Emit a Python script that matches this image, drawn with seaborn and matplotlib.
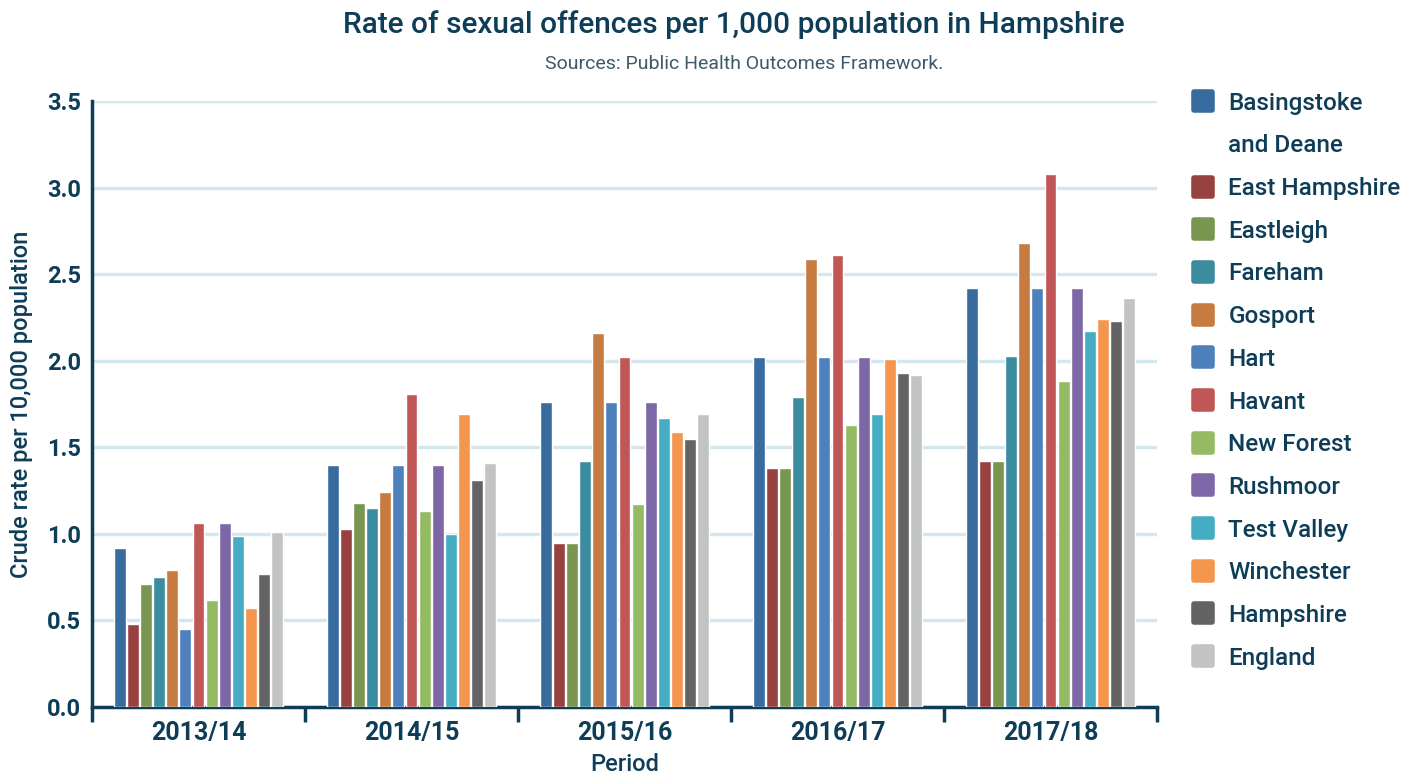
import seaborn as sns
import matplotlib.pyplot as plt
import pandas as pd
from matplotlib.lines import Line2D
from matplotlib.markers import MarkerStyle
from matplotlib.ticker import FixedLocator

periods = ['2013/14', '2014/15', '2015/16', '2016/17', '2017/18']

areas = ['Basingstoke and Deane', 'East Hampshire', 'Eastleigh', 'Fareham', 'Gosport', 'Hart',
         'Havant', 'New Forest', 'Rushmoor', 'Test Valley', 'Winchester', 'Hampshire', 'England']

basingstoke = [0.92, 1.40, 1.76, 2.02, 2.42]
east_hampshire = [0.48, 1.03, 0.95, 1.38, 1.42]
eastleigh = [0.71, 1.18, 0.95, 1.38, 1.42]
fareham = [0.75, 1.15, 1.42, 1.79, 2.03]
gosport = [0.79, 1.24, 2.16, 2.59, 2.68]
hart = [0.45, 1.40, 1.76, 2.02, 2.42]
havant = [1.06, 1.81, 2.02, 2.61, 3.08]
new_forest = [0.62, 1.13, 1.17, 1.63, 1.88]
rushmoor = [1.06, 1.40, 1.76, 2.02, 2.42]
test_valley = [0.99, 1.00, 1.67, 1.69, 2.17]
winchester = [0.57, 1.69, 1.59, 2.01, 2.24]
hampshire = [0.77, 1.31, 1.55, 1.93, 2.23]
england = [1.01, 1.41, 1.69, 1.92, 2.36]

colors = ['#386c9e', '#984141', '#789650', '#3c8ca0', '#c67b41', '#4e80bd', '#c05756',
          '#95ba64', '#7d67a6', '#44adc4', '#f5964f', '#636363', '#c2c3c3']

navy = '#0e3d58'

series = [basingstoke, east_hampshire, eastleigh, fareham, gosport, hart, havant,
          new_forest, rushmoor, test_valley, winchester, hampshire, england]

rows = []
for area, vals in zip(areas, series):
    for p, v in zip(periods, vals):
        rows.append({'Period': p, 'Area': area, 'Rate': v})
df = pd.DataFrame(rows)

sns.set_style('white')
plt.rcParams['font.family'] = ['Roboto', 'DejaVu Sans']

fig = plt.figure(figsize=(14.08, 7.76), dpi=100)
ax = fig.add_axes([92 / 1408, 69 / 776, (1157 - 92) / 1408, (707 - 101) / 776])

sns.barplot(data=df, x='Period', y='Rate', hue='Area', hue_order=areas, palette=colors,
            width=0.8, gap=0.1, saturation=1, legend=False, ax=ax, zorder=3)

ax.set_ylim(0, 3.5)
ax.set_xlim(-0.5, 4.5)
ax.set_yticks([0, 0.5, 1.0, 1.5, 2.0, 2.5, 3.0, 3.5])
ax.set_yticklabels(['0.0', '0.5', '1.0', '1.5', '2.0', '2.5', '3.0', '3.5'])
ax.yaxis.grid(True, color='#d4e6ee', linewidth=2.4, zorder=0)
ax.set_axisbelow(True)

for s in ['top', 'right']:
    ax.spines[s].set_visible(False)
for s in ['left', 'bottom']:
    ax.spines[s].set_color(navy)
    ax.spines[s].set_linewidth(2.5)

ax.tick_params(axis='y', length=0, pad=8, labelsize=17, labelcolor=navy)
ax.tick_params(axis='x', which='major', length=0, pad=10, labelsize=18, labelcolor=navy)
ax.xaxis.set_minor_locator(FixedLocator([-0.5, 0.5, 1.5, 2.5, 3.5, 4.5]))
ax.tick_params(axis='x', which='minor', bottom=True, length=11, width=2.5, color=navy,
               direction='out')
for lab in ax.get_xticklabels() + ax.get_yticklabels():
    lab.set_fontweight('bold')

ax.set_xlabel('Period', fontsize=17, color=navy, fontweight='medium', labelpad=6)
ax.set_ylabel('Crude rate per 10,000 population', fontsize=17, color=navy,
              fontweight='medium', labelpad=10)

fig.text(734 / 1408, 1 - 25 / 776, 'Rate of sexual offences per 1,000 population in Hampshire',
         ha='center', va='center', fontsize=21.5, fontweight='medium', color=navy)
fig.text(744 / 1408, 1 - 64 / 776, 'Sources: Public Health Outcomes Framework.',
         ha='center', va='center', fontsize=14, color='#3d5a6c')

# legend, with the long name broken over two lines
handles = []
labels = []
for area, c in zip(areas, colors):
    m = MarkerStyle('s', joinstyle='round')
    h = Line2D([], [], marker=m, linestyle='', markersize=12.5, markerfacecolor=c,
               markeredgecolor=c, markeredgewidth=4)
    if area == 'Basingstoke and Deane':
        handles += [h, Line2D([], [], linestyle='', marker='')]
        labels += ['Basingstoke', 'and Deane']
    else:
        handles.append(h)
        labels.append(area)

leg = fig.legend(handles, labels, loc='upper left', bbox_to_anchor=(1181 / 1408, 1 - 82 / 776),
                 frameon=False, fontsize=17.5, labelspacing=0.81, handlelength=1.0,
                 handletextpad=0.55, borderaxespad=0)
for t in leg.get_texts():
    t.set_color(navy)
    t.set_fontweight('medium')

fig.savefig('out.png', dpi=100)
